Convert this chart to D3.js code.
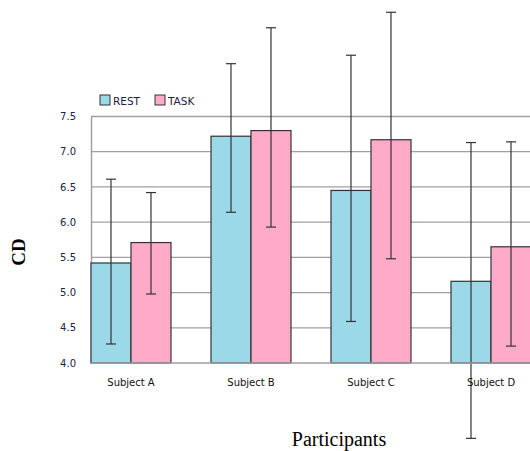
<!DOCTYPE html>
<html><head><meta charset="utf-8">
<script src="https://cdn.jsdelivr.net/npm/d3@7"></script>
<style>body{margin:0;background:#fff;} svg{display:block;}</style>
</head><body>
<svg id="c" width="530" height="451"></svg>
<script>
const categories = ["Subject A", "Subject B", "Subject C", "Subject D"];
const seriesNames = ["REST", "TASK"];
const restValues = [5.42, 7.22, 6.45, 5.16];
const taskValues = [5.71, 7.30, 7.17, 5.65];
const restErrLow = [4.27, 6.14, 4.59, 2.93];
const restErrHigh = [6.61, 8.25, 8.37, 7.13];
const taskErrLow = [4.98, 5.93, 5.48, 4.24];
const taskErrHigh = [6.42, 8.76, 8.98, 7.14];
const yTicks = [4.0, 4.5, 5.0, 5.5, 6.0, 6.5, 7.0, 7.5];
const colors = ["#9bd8e8", "#ffaac8"];

const svg = d3.select("#c");
const x = d3.scaleBand().domain(categories).range([91, 531]).paddingInner(1/3).paddingOuter(0);
const sub = d3.scaleBand().domain(seriesNames).range([0, x.bandwidth()]);
const y = d3.scaleLinear().domain([4, 7.5]).range([363, 116.5]);

// gridlines
svg.append("g").selectAll("line").data(yTicks.slice(1)).join("line")
  .attr("x1", 91).attr("x2", 530).attr("y1", d => y(d)).attr("y2", d => y(d))
  .attr("stroke", "#a0a0a0").attr("stroke-width", 1.3);

// y axis
const yAxis = d3.axisLeft(y).tickValues(yTicks).tickFormat(d3.format(".1f")).tickSize(0).tickPadding(15);
const ga = svg.append("g").attr("transform", "translate(91,0)").call(yAxis);
ga.select(".domain").attr("stroke", "#a0a0a0").attr("stroke-width", 1.5);
ga.selectAll("text").attr("font-family", "DejaVu Sans, Verdana, sans-serif").attr("font-size", 10).attr("fill", "#222244");

const rows = categories.map((c, i) => ({c, vals: [
  {s: "REST", v: restValues[i], lo: restErrLow[i], hi: restErrHigh[i]},
  {s: "TASK", v: taskValues[i], lo: taskErrLow[i], hi: taskErrHigh[i]}]}));

const groups = svg.append("g").selectAll("g").data(rows).join("g")
  .attr("transform", d => `translate(${x(d.c)},0)`);
groups.selectAll("rect").data(d => d.vals).join("rect")
  .attr("x", d => sub(d.s)).attr("width", sub.bandwidth())
  .attr("y", d => y(d.v)).attr("height", d => y(4) - y(d.v))
  .attr("fill", (d, i) => colors[i]).attr("stroke", "#333").attr("stroke-width", 1.2);

// x axis baseline
svg.append("line").attr("x1", 91).attr("x2", 530).attr("y1", y(4)).attr("y2", y(4))
  .attr("stroke", "#a0a0a0").attr("stroke-width", 1.5);

// error bars
const eb = groups.selectAll("g.eb").data(d => d.vals).join("g").attr("class", "eb")
  .attr("stroke", "#333").attr("stroke-width", 1.2);
eb.append("line").attr("x1", d => sub(d.s) + sub.bandwidth()/2).attr("x2", d => sub(d.s) + sub.bandwidth()/2)
  .attr("y1", d => y(d.lo)).attr("y2", d => y(d.hi));
eb.append("line").attr("x1", d => sub(d.s) + sub.bandwidth()/2 - 5).attr("x2", d => sub(d.s) + sub.bandwidth()/2 + 5)
  .attr("y1", d => y(d.lo)).attr("y2", d => y(d.lo));
eb.append("line").attr("x1", d => sub(d.s) + sub.bandwidth()/2 - 5).attr("x2", d => sub(d.s) + sub.bandwidth()/2 + 5)
  .attr("y1", d => y(d.hi)).attr("y2", d => y(d.hi));

// category labels
const xAxis = d3.axisBottom(x).tickSize(0).tickPadding(16);
const gx = svg.append("g").attr("transform", `translate(0,${y(4)})`).call(xAxis);
gx.select(".domain").remove();
gx.selectAll("text").attr("font-family", "DejaVu Sans, Verdana, sans-serif").attr("font-size", 10).attr("fill", "#111");

// legend
const lg = svg.append("g").selectAll("g").data(seriesNames).join("g")
  .attr("transform", (d, i) => `translate(${100 + i*55},95)`);
lg.append("rect").attr("width", 10).attr("height", 10).attr("fill", (d, i) => colors[i]).attr("stroke", "#333").attr("stroke-width", 1);
lg.append("text").attr("x", 13).attr("y", 9.5).text(d => d)
  .attr("font-family", "DejaVu Sans, Verdana, sans-serif").attr("font-size", 10.5).attr("fill", "#222244");

// axis titles
svg.append("text").attr("transform", "translate(25,252) rotate(-90)").attr("text-anchor", "middle")
  .attr("font-family", "Liberation Serif, Times New Roman, serif").attr("font-size", 19).attr("font-weight", "bold").text("CD");
svg.append("text").attr("x", 339).attr("y", 446).attr("text-anchor", "middle")
  .attr("font-family", "Liberation Serif, Times New Roman, serif").attr("font-size", 20).text("Participants");
</script>
</body></html>
